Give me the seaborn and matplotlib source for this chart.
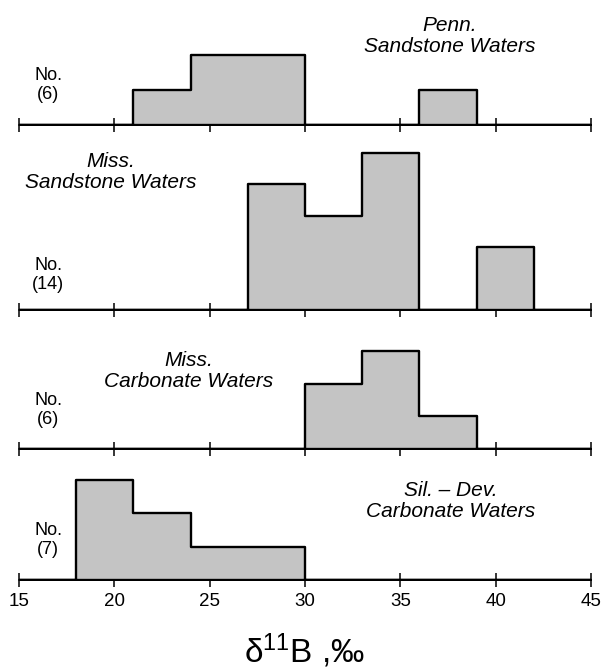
import numpy as np
import matplotlib
matplotlib.use("Agg")
import matplotlib.pyplot as plt
import seaborn as sns

# Boron isotope histograms (3 per-mil bins from 15 to 45)
bin_edges = [15, 18, 21, 24, 27, 30, 33, 36, 39, 42, 45]
bin_centers = [16.5, 19.5, 22.5, 25.5, 28.5, 31.5, 34.5, 37.5, 40.5, 43.5]

penn_sandstone = [0, 0, 1, 2, 2, 0, 0, 1, 0, 0]
miss_sandstone = [0, 0, 0, 0, 4, 3, 5, 0, 2, 0]
miss_carbonate = [0, 0, 0, 0, 0, 2, 3, 1, 0, 0]
sildev_carbonate = [0, 3, 2, 1, 1, 0, 0, 0, 0, 0]

panel_titles = ["Penn.\nSandstone Waters",
                "Miss.\nSandstone Waters",
                "Miss.\nCarbonate Waters",
                "Sil. \u2013 Dev.\nCarbonate Waters"]
panel_counts = [penn_sandstone, miss_sandstone, miss_carbonate, sildev_carbonate]
panel_n = ["(6)", "(14)", "(6)", "(7)"]
xticks = [15, 20, 25, 30, 35, 40, 45]

sns.set_style("white")
plt.rcParams["font.family"] = ["Liberation Sans", "DejaVu Sans"]
plt.rcParams["mathtext.fontset"] = "custom"
plt.rcParams["mathtext.rm"] = "Liberation Sans"
plt.rcParams["text.color"] = "black"
plt.rcParams["xtick.color"] = "black"
plt.rcParams["xtick.labelcolor"] = "black"

W, H = 602, 672
fig = plt.figure(figsize=(W / 100, H / 100), dpi=100)

def fx(px):
    return px / W

def fy(py):
    return 1 - py / H

# layout in pixels: baseline row, pixels per count, y-limit
layout = [
    dict(base=125, unit=35.0, ymax=2.2),
    dict(base=310, unit=31.5, ymax=5.2),
    dict(base=449, unit=32.5, ymax=3.2),
    dict(base=580, unit=33.5, ymax=3.2),
]
title_pos = [(450, 36), (111, 172), (189, 371), (451, 501)]
no_pos = [(48, 85), (48, 275), (48, 410), (48, 540)]

x_left, x_right = 19, 591
fill_col = "#c4c4c4"

for i, (counts, lay) in enumerate(zip(panel_counts, layout)):
    h = lay["unit"] * lay["ymax"]
    ax = fig.add_axes([fx(x_left), fy(lay["base"]), fx(x_right - x_left), h / H])
    sns.histplot(x=bin_centers, weights=counts, bins=bin_edges, element="step",
                 fill=True, color=fill_col, edgecolor="black", linewidth=1.7,
                 alpha=1, ax=ax)
    ax.set_xlim(15, 45)
    ax.set_ylim(0, lay["ymax"])
    for s in ("top", "right", "left"):
        ax.spines[s].set_visible(False)
    ax.spines["bottom"].set_linewidth(1.1)
    ax.spines["bottom"].set_color("black")
    ax.spines["bottom"].set_zorder(0.5)
    ax.set_yticks([])
    ax.set_xticks(xticks)
    ax.tick_params(axis="x", direction="inout", length=10, width=1.1,
                   color="black", labelcolor="black", bottom=True, pad=4,
                   labelsize=13.5)
    ax.set_ylabel("")
    ax.set_xlabel("")
    ax.patch.set_alpha(0)
    if i < 3:
        ax.set_xticklabels([])

    tx, ty = title_pos[i]
    fig.text(fx(tx), fy(ty), panel_titles[i], ha="center", va="center",
             style="italic", fontsize=15, linespacing=1.1,
             multialignment="center", color="black")
    nx, ny = no_pos[i]
    fig.text(fx(nx), fy(ny), "No.\n" + panel_n[i], ha="center", va="center",
             fontsize=13, linespacing=1.15, multialignment="center",
             color="black")

fig.text(fx(304), fy(651), r"$\mathregular{\delta^{11}}$B ," + "\u2030",
         ha="center", va="center", fontsize=24, color="black")

fig.savefig("out.png", dpi=100, facecolor="white")
